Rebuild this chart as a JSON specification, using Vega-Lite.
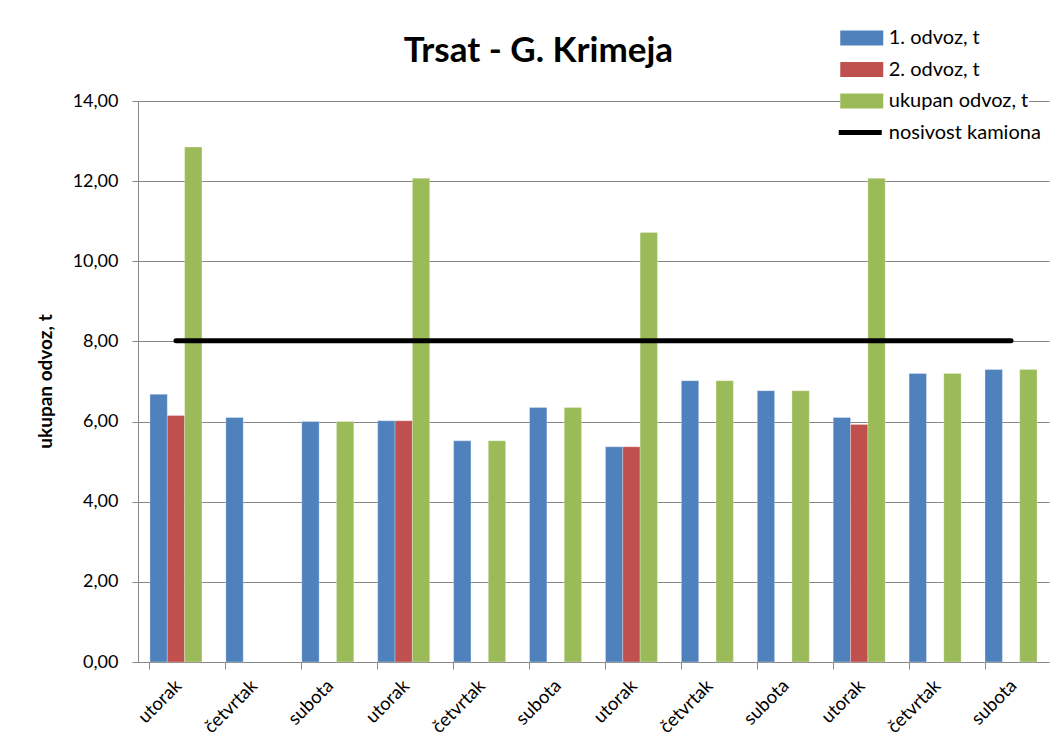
{
  "$schema": "https://vega.github.io/schema/vega-lite/v6.json",
  "width": 911,
  "height": 561,
  "autosize": {"type": "none"},
  "padding": {"left": 138, "top": 101, "right": 15, "bottom": 94},
  "background": "white",
  "title": {
    "text": "Trsat - G. Krimeja",
    "font": "Lato",
    "fontSize": 35,
    "fontWeight": "bold",
    "color": "black",
    "anchor": "middle",
    "dx": -55,
    "dy": 42,
    "offset": 0
  },
  "config": {
    "font": "Lato",
    "view": {"stroke": null},
    "axis": {
      "labelFont": "Lato",
      "labelFontSize": 18,
      "labelColor": "black",
      "domainColor": "#868686",
      "tickColor": "#868686",
      "gridColor": "#868686"
    }
  },
  "datasets": {
    "bars": [
      {"i": 1, "series": "1. odvoz, t", "v": 6.68},
      {"i": 1, "series": "2. odvoz, t", "v": 6.15},
      {"i": 1, "series": "ukupan odvoz, t", "v": 12.85},
      {"i": 2, "series": "1. odvoz, t", "v": 6.1},
      {"i": 3, "series": "1. odvoz, t", "v": 6.0},
      {"i": 3, "series": "ukupan odvoz, t", "v": 6.0},
      {"i": 4, "series": "1. odvoz, t", "v": 6.02},
      {"i": 4, "series": "2. odvoz, t", "v": 6.02},
      {"i": 4, "series": "ukupan odvoz, t", "v": 12.07},
      {"i": 5, "series": "1. odvoz, t", "v": 5.52},
      {"i": 5, "series": "ukupan odvoz, t", "v": 5.52},
      {"i": 6, "series": "1. odvoz, t", "v": 6.35},
      {"i": 6, "series": "ukupan odvoz, t", "v": 6.35},
      {"i": 7, "series": "1. odvoz, t", "v": 5.37},
      {"i": 7, "series": "2. odvoz, t", "v": 5.37},
      {"i": 7, "series": "ukupan odvoz, t", "v": 10.72},
      {"i": 8, "series": "1. odvoz, t", "v": 7.02},
      {"i": 8, "series": "ukupan odvoz, t", "v": 7.02},
      {"i": 9, "series": "1. odvoz, t", "v": 6.77},
      {"i": 9, "series": "ukupan odvoz, t", "v": 6.77},
      {"i": 10, "series": "1. odvoz, t", "v": 6.1},
      {"i": 10, "series": "2. odvoz, t", "v": 5.93},
      {"i": 10, "series": "ukupan odvoz, t", "v": 12.07},
      {"i": 11, "series": "1. odvoz, t", "v": 7.2},
      {"i": 11, "series": "ukupan odvoz, t", "v": 7.2},
      {"i": 12, "series": "1. odvoz, t", "v": 7.3},
      {"i": 12, "series": "ukupan odvoz, t", "v": 7.3}
    ],
    "cap": [
      {"i": 1, "i2": 12, "v": 8.02, "name": "nosivost kamiona"}
    ]
  },
  "resolve": {"axis": {"x": "independent"}},
  "layer": [
    {
      "data": {"name": "bars"},
      "mark": {"type": "bar", "stroke": "white", "strokeOpacity": 0.35, "strokeWidth": 0.8},
      "encoding": {
        "x": {
          "field": "i",
          "type": "ordinal",
          "scale": {"domain": [1,2,3,4,5,6,7,8,9,10,11,12], "paddingInner": 0.315, "paddingOuter": 0.1575},
          "axis": {
            "orient": "bottom",
            "title": null,
            "labelAngle": -45,
            "labelAlign": "right",
            "labelBaseline": "top",
            "labelFontSize": 18.5,
            "labelPadding": 14,
            "labelOffset": -4,
            "ticks": false,
            "domain": true,
            "labelExpr": "['utorak','četvrtak','subota'][(datum.value - 1) % 3]"
          }
        },
        "xOffset": {
          "field": "series",
          "type": "nominal",
          "scale": {"domain": ["1. odvoz, t", "2. odvoz, t", "ukupan odvoz, t"], "paddingInner": 0, "paddingOuter": 0}
        },
        "y": {
          "field": "v",
          "type": "quantitative",
          "scale": {"domain": [0, 14], "nice": false},
          "axis": {
            "title": "ukupan odvoz, t",
            "titleFont": "Lato",
            "titleFontSize": 19,
            "titleFontWeight": "bold",
            "titleColor": "black",
            "titleX": -93,
            "titleY": 280,
            "titleAngle": -90,
            "titleAlign": "center",
            "titleBaseline": "middle",
            "values": [0, 2, 4, 6, 8, 10, 12, 14],
            "labelExpr": "replace(format(datum.value, '.2f'), '.', ',')",
            "tickSize": 6,
            "labelPadding": 14,
            "grid": true,
            "gridWidth": 1
          }
        },
        "color": {
          "field": "series",
          "type": "nominal",
          "scale": {
            "domain": ["1. odvoz, t", "2. odvoz, t", "ukupan odvoz, t"],
            "range": ["#4F81BD", "#C0504D", "#9BBB59"]
          },
          "legend": {
            "title": null,
            "orient": "none",
            "legendX": 702,
            "legendY": -74,
            "fillColor": "white",
            "padding": 0,
            "labelFont": "Lato",
            "labelFontSize": 20,
            "labelColor": "black",
            "symbolType": "M-2,-0.7H2V0.7H-2Z",
            "symbolSize": 462,
            "symbolOffset": 10.75,
            "labelOffset": 16,
            "rowPadding": 10.5,
            "symbolStrokeWidth": 0
          }
        }
      }
    },
    {
      "data": {"name": "bars"},
      "mark": {"type": "tick", "opacity": 0},
      "encoding": {
        "x": {
          "field": "i",
          "type": "ordinal",
          "axis": {
            "orient": "bottom",
            "title": null,
            "labels": false,
            "labelOpacity": 0,
            "labelExpr": "''",
            "domain": false,
            "ticks": true,
            "tickSize": 7,
            "bandPosition": 0
          }
        }
      }
    },
    {
      "data": {"name": "cap"},
      "mark": {"type": "rule", "strokeWidth": 5, "strokeCap": "round"},
      "encoding": {
        "x": {"field": "i", "type": "ordinal", "bandPosition": 0.5, "axis": null},
        "x2": {"field": "i2", "bandPosition": 0.5},
        "y": {"field": "v", "type": "quantitative"},
        "stroke": {
          "field": "name",
          "type": "nominal",
          "scale": {"domain": ["nosivost kamiona"], "range": ["#000000"]},
          "legend": {
            "title": null,
            "orient": "none",
            "legendX": 698,
            "legendY": 18,
            "padding": 0,
            "labelFont": "Lato",
            "labelFontSize": 20,
            "labelColor": "black",
            "symbolType": "M-2,0H2",
            "symbolSize": 462,
            "symbolOffset": 10.75,
            "labelOffset": 15,
            "symbolStrokeWidth": 5
          }
        }
      }
    }
  ]
}
